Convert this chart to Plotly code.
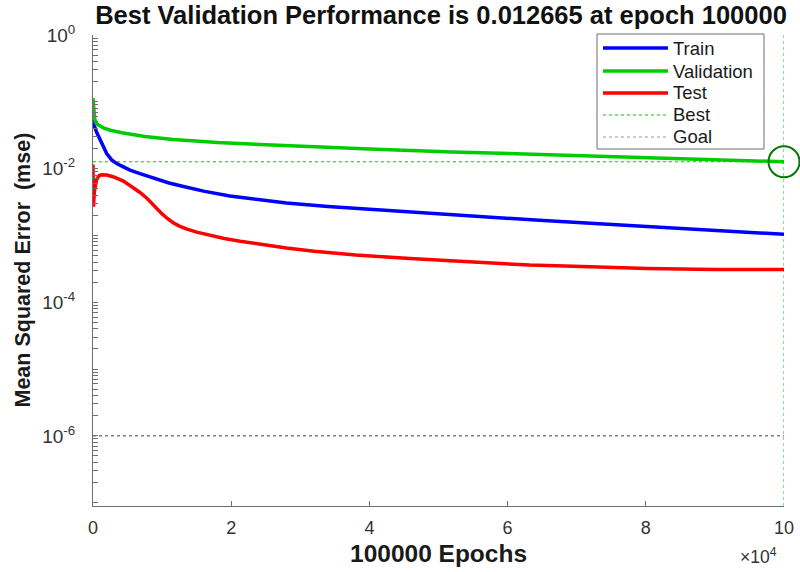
import plotly.graph_objects as go

# ---- training record (epochs, mean squared error) ----
train_epochs = [0, 100, 250, 530, 1000, 1490, 1980, 2700, 3430, 4400, 5350, 6800, 9200,
                11000, 13100, 16000, 19800, 24000, 28000, 34000, 40000, 46000, 52000,
                58000, 64000, 72000, 82500, 91000, 100000]
train_mse = [0.057, 0.050, 0.042, 0.035, 0.027, 0.0205, 0.0168, 0.0135, 0.0119, 0.0106,
             0.0095, 0.0084, 0.0070, 0.0061, 0.0054, 0.0046, 0.0039, 0.0034, 0.00305,
             0.0027, 0.00245, 0.00222, 0.00203, 0.00185, 0.0017, 0.00152, 0.00132,
             0.00117, 0.00104]

val_epochs = [0, 50, 120, 250, 500, 1000, 1500, 2500, 4400, 7500, 11600, 18000, 25600,
              32000, 40000, 52000, 64700, 73000, 82500, 91000, 100000]
val_mse = [0.113, 0.09, 0.07, 0.055, 0.047, 0.043, 0.0408, 0.0375, 0.0341, 0.0303, 0.0272,
           0.0245, 0.0225, 0.0211, 0.0196, 0.0178, 0.0162, 0.0153, 0.0143, 0.0135, 0.012665]

test_epochs = [0, 60, 200, 500, 900, 1260, 2000, 3000, 4400, 5500, 6800, 7800, 8500, 9200,
               10000, 10800, 11600, 12500, 13500, 15000, 17000, 19000, 21300, 24500, 28000,
               32000, 38000, 45900, 55000, 63200, 72000, 80100, 90000, 100000]
test_mse = [0.0115, 0.0027, 0.0045, 0.0068, 0.0079, 0.0081, 0.0080, 0.0075, 0.0065, 0.0055,
            0.0044, 0.0036, 0.0030, 0.0025, 0.0021, 0.00178, 0.00155, 0.00138, 0.00125,
            0.00112, 0.00099, 0.00090, 0.00082, 0.00073, 0.00065, 0.00058, 0.00051,
            0.00045, 0.00040, 0.00036, 0.00034, 0.00032, 0.00031, 0.00031]

best_epoch = 100000
best_perf = 0.012665
goal = 1e-6
max_epoch = 100000

x_tick_vals = [0, 20000, 40000, 60000, 80000, 100000]
x_tick_text = ["0", "2", "4", "6", "8", "10"]

y_major = [1e0, 1e-2, 1e-4, 1e-6]
y_major_text = ["10<sup>0</sup>", "10<sup>-2</sup>", "10<sup>-4</sup>", "10<sup>-6</sup>"]

series_names = ["Train", "Validation", "Test", "Best", "Goal"]
series_colors = {"Train": "#0000ff", "Validation": "#00cc00", "Test": "#ff0000",
                 "Best": "#00cc00", "Goal": "#404040"}

FONT = "Arial, 'Liberation Sans', sans-serif"

# log-axis ticks: every integer multiple inside each decade, labels on even decades only
y_tick_vals, y_tick_text = [], []
for k in range(-7, 1):
    for m in range(1, 10):
        v = m * 10.0 ** k
        if v > 1.0:
            break
        y_tick_vals.append(v)
        if m == 1 and v in y_major:
            y_tick_text.append(y_major_text[y_major.index(v)])
        else:
            y_tick_text.append("")

fig = go.Figure()

# goal and best guide lines
fig.add_trace(go.Scatter(x=[0, max_epoch], y=[goal, goal], mode="lines",
                         line=dict(color=series_colors["Goal"], width=1, dash="dot"),
                         showlegend=False, hoverinfo="skip"))
fig.add_trace(go.Scatter(x=[0, max_epoch], y=[best_perf, best_perf], mode="lines",
                         line=dict(color=series_colors["Best"], width=1, dash="dot"),
                         showlegend=False, hoverinfo="skip"))
fig.add_trace(go.Scatter(x=[best_epoch, best_epoch], y=[10 ** -7.05, 1.0], mode="lines",
                         line=dict(color=series_colors["Best"], width=1, dash="dot"),
                         showlegend=False, hoverinfo="skip"))

# performance curves
for name, xs, ys in [("Test", test_epochs, test_mse),
                     ("Train", train_epochs, train_mse),
                     ("Validation", val_epochs, val_mse)]:
    fig.add_trace(go.Scatter(x=xs, y=ys, mode="lines", name=name,
                             line=dict(color=series_colors[name], width=3.5),
                             showlegend=False))

# best-epoch marker
fig.add_trace(go.Scatter(x=[best_epoch], y=[best_perf], mode="markers",
                         marker=dict(symbol="circle-open", size=31, color="#007a00",
                                     line=dict(width=2, color="#007a00")),
                         cliponaxis=False, showlegend=False, hoverinfo="skip"))

# legend box drawn in paper coordinates
W, H = 800, 572
L, R, T, B = 93, 16, 35, 66
pw, ph = W - L - R, H - T - B


def px(xp):
    return (xp - L) / pw


def py(yp):
    return 1 - (yp - T) / ph


shapes = [dict(type="rect", xref="paper", yref="paper",
               x0=px(597), x1=px(764), y0=py(149), y1=py(34),
               line=dict(color="#6e6e6e", width=1), fillcolor="white", layer="above")]
annotations = []
row_y = [48, 71, 93, 115, 137]
for name, yy in zip(series_names, row_y):
    if name in ("Best", "Goal"):
        ln = dict(color=series_colors[name] if name == "Best" else "#9a9a9a", width=1, dash="dot")
    else:
        ln = dict(color=series_colors[name], width=3.5)
    shapes.append(dict(type="line", xref="paper", yref="paper",
                       x0=px(603), x1=px(668), y0=py(yy), y1=py(yy), line=ln, layer="above"))
    annotations.append(dict(text=name, xref="paper", yref="paper", x=px(671), y=py(yy),
                            xanchor="left", yanchor="middle", showarrow=False,
                            font=dict(family=FONT, size=18.5, color="#1a1a1a")))

# axis titles and the x scale factor
annotations.append(dict(text="<b>100000 Epochs</b>", xref="paper", yref="paper",
                        x=0.5, y=0, yshift=-47, xanchor="center", yanchor="middle",
                        showarrow=False, font=dict(family=FONT, size=24.5, color="#1a1a1a")))
annotations.append(dict(text="<b>Mean Squared Error &nbsp;(mse)</b>", xref="paper", yref="paper",
                        x=0, y=0.5, xshift=-71, xanchor="center", yanchor="middle", textangle=-90,
                        showarrow=False, font=dict(family=FONT, size=21.5, color="#1a1a1a")))
annotations.append(dict(text="\u00d710<sup>4</sup>", xref="paper", yref="paper",
                        x=1, y=0, xshift=-26, yshift=-50, xanchor="center", yanchor="middle",
                        showarrow=False, font=dict(family=FONT, size=17.5, color="#333333")))

fig.update_layout(
    width=W, height=H,
    margin=dict(l=L, r=R, t=T, b=B, autoexpand=False),
    paper_bgcolor="white", plot_bgcolor="white",
    title=dict(text="<b>Best Validation Performance is 0.012665 at epoch 100000</b>",
               x=441 / W, xanchor="center", y=1 - 15 / H, yanchor="middle",
               font=dict(family=FONT, size=25.5, color="#111111")),
    shapes=shapes, annotations=annotations,
    showlegend=False,
)

fig.update_xaxes(range=[0, max_epoch], tickvals=x_tick_vals, ticktext=x_tick_text,
                 ticks="inside", ticklen=5, tickcolor="#6e6e6e", tickwidth=1,
                 showline=True, linecolor="#6e6e6e", linewidth=1, mirror=False,
                 showgrid=False, zeroline=False, ticklabelstandoff=5, automargin=False,
                 tickfont=dict(family=FONT, size=18, color="#333333"))
fig.update_yaxes(type="log", range=[-7.05, 0], tickvals=y_tick_vals, ticktext=y_tick_text,
                 ticks="inside", ticklen=5, tickcolor="#6e6e6e", tickwidth=1,
                 showline=True, linecolor="#6e6e6e", linewidth=1, mirror=False,
                 showgrid=False, zeroline=False, ticklabelstandoff=13, automargin=False,
                 tickfont=dict(family=FONT, size=19, color="#333333"))

fig.write_html("out.html")
